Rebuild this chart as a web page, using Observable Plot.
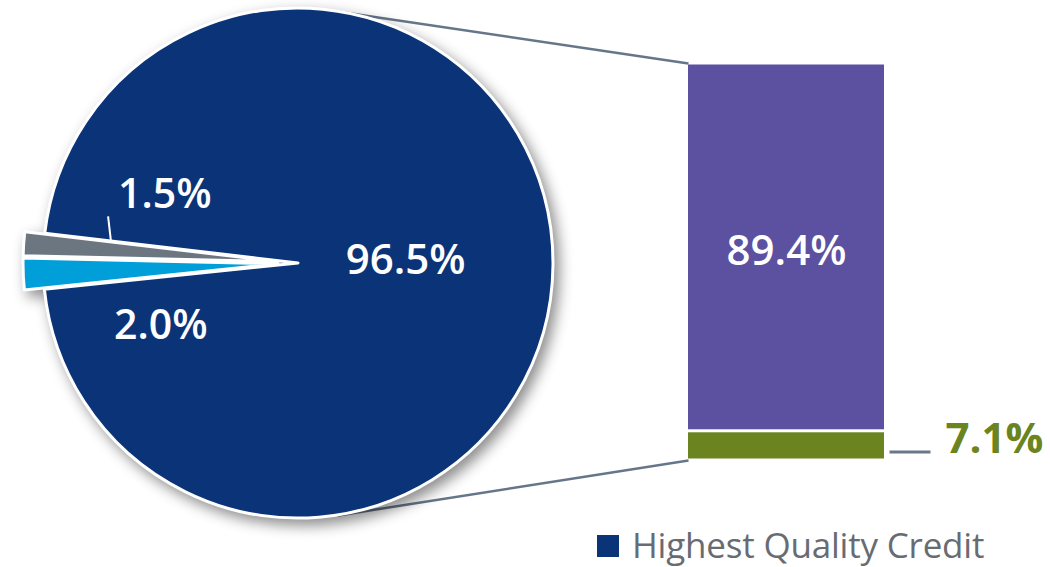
<!DOCTYPE html>
<html>
<head>
<meta charset="utf-8">
<script src="https://cdn.jsdelivr.net/npm/d3@7"></script>
<script src="https://cdn.jsdelivr.net/npm/@observablehq/plot@0.6"></script>
<style>
  html, body { margin: 0; padding: 0; background: #fff; }
  #chart { width: 1050px; height: 567px; position: relative; overflow: hidden; }
  #legend { position: absolute; left: 597px; top: 526px; display: flex; align-items: center; line-height: 1.1;
            font-family: "Open Sans", "Noto Sans", sans-serif; font-size: 35px; color: #686c72; letter-spacing: -0.2px; }
  #legend .sw { width: 22px; height: 22px; background: #0b3478; margin-right: 13px; margin-top: 2px; }
</style>
</head>
<body>
<div id="chart"></div>
<script>
// ---- data ----
const pieNames  = ["Other (1.5%)", "Other (2.0%)", "Highest Quality Credit"];
const pieValues = [1.5, 2.0, 96.5];
const pieColors = ["#6b7681", "#019fd9", "#0b3478"];
const pieExplode = [1, 1, 0];          // which slices are pulled out
const pieLabels = ["1.5%", "2.0%", "96.5%"];

const barNames  = ["Bar top", "Bar bottom"];
const barValues = [89.4, 7.1];
const barColors = ["#5c51a0", "#6b8420"];
const barLabels = ["89.4%", "7.1%"];
const legendLabel = "Highest Quality Credit";

// ---- layout (pixels) ----
const W = 1050, H = 525;
const cx = 298, cy = 263, R = 255;       // pie centre / radius in px
const startDeg = 173.3;                   // angle where the first slice begins
const explodePx = 20;

// x/y scales in "pie radius" units, y up
const xDomain = [-cx / R, (W - cx) / R];
const yDomain = [-(H - cy) / R, cy / R];
const px = p => p / R;                    // pixel distance -> units

// ---- pie slices from values ----
const total = d3.sum(pieValues);
let acc = startDeg;
const slices = pieValues.map((v, i) => {
  const a0 = acc, a1 = acc + v / total * 360;
  acc = a1;
  const mid = (a0 + a1) / 2 * Math.PI / 180;
  const off = pieExplode[i] ? px(explodePx) : 0;
  return {name: pieNames[i], color: pieColors[i], a0, a1, ox: off * Math.cos(mid), oy: off * Math.sin(mid)};
});
const grayStart = startDeg * Math.PI / 180;

// custom pie mark drawn with Plot's x/y scales
function pieMark(index, scales) {
  const sx = scales.x, sy = scales.y;
  const rPx = sx(1) - sx(0);
  const g = d3.create("svg:g").attr("aria-label", "pie")
    .style("filter", "drop-shadow(5px 6px 7px rgba(0,0,0,0.45))");
  // d3.arc angles: 0 at 12 o'clock, clockwise. math angle a (ccw from +x) -> PI/2 - a
  const arc = d3.arc().innerRadius(0).outerRadius(rPx);
  for (const s of slices) {
    const r0 = Math.PI / 2 - s.a1 * Math.PI / 180;
    const r1 = Math.PI / 2 - s.a0 * Math.PI / 180;
    g.append("path")
      .attr("transform", `translate(${sx(s.ox)},${sy(s.oy)})`)
      .attr("d", arc({startAngle: r0, endAngle: r1}))
      .attr("fill", s.color)
      .attr("stroke", "white")
      .attr("stroke-width", 3)
      .attr("stroke-linejoin", "round");
  }
  return g.node();
}

// ---- bar geometry from values ----
const barX1 = px(688 - cx), barX2 = px(884 - cx);
const barBase = px(cy - 460);
const k = px(397) / d3.sum(barValues);   // units per percent
const greenTop = barBase + barValues[1] * k;
const barTop = greenTop + barValues[0] * k;
const bars = [
  {name: barNames[0], y1: greenTop, y2: barTop, fill: barColors[0], label: barLabels[0]},
  {name: barNames[1], y1: barBase, y2: greenTop, fill: barColors[1], label: barLabels[1]}
];

// tangent lines from bar corners to the pie circle
function tangent(X, Y, sign) {
  const d = Math.hypot(X, Y), phi = Math.atan2(Y, X), t = Math.acos(1 / d);
  const a = phi + sign * t;
  return {x1: Math.cos(a), y1: Math.sin(a), x2: X, y2: Y};
}
const connectors = [tangent(barX1, barTop, +1), tangent(barX1, barBase, -1)];

const font = "'Open Sans', 'Noto Sans', sans-serif";

const plot = Plot.plot({
  width: W, height: H,
  margin: 0,
  x: {domain: xDomain, axis: null},
  y: {domain: yDomain, axis: null},
  style: {background: "#fff", overflow: "visible"},
  marks: [
    Plot.link(connectors, {x1: "x1", y1: "y1", x2: "x2", y2: "y2", stroke: "#66768a", strokeWidth: 2.5}),
    pieMark,
    // leader for 1.5%
    Plot.link([0], {x1: () => 0.74 * Math.cos(grayStart), y1: () => 0.74 * Math.sin(grayStart) - px(1),
                    x2: () => 0.74 * Math.cos(grayStart) - px(3), y2: () => 0.74 * Math.sin(grayStart) + px(25),
                    stroke: "white", strokeWidth: 2}),
    Plot.text([pieLabels[0]], {x: -0.524, y: 0.268, text: d => d, fill: "white", fontSize: 41, fontWeight: 600, fontFamily: font}),
    Plot.text([pieLabels[1]], {x: -0.54, y: -0.244, text: d => d, fill: "white", fontSize: 41, fontWeight: 600, fontFamily: font}),
    Plot.text([pieLabels[2]], {x: 0.42, y: 0.01, text: d => d, fill: "white", fontSize: 42, fontWeight: 600, fontFamily: font}),
    // stacked bar
    Plot.rect(bars, {x1: barX1, x2: barX2, y1: "y1", y2: "y2", fill: "fill", insetTop: 1.5, insetBottom: 1.5}),
    Plot.text([bars[0]], {x: (barX1 + barX2) / 2, y: d => (d.y1 + d.y2) / 2 - px(4), text: "label",
                          fill: "white", fontSize: 42, fontWeight: 600, fontFamily: font}),
    Plot.link([bars[1]], {x1: barX2 + px(5), x2: barX2 + px(46), y1: d => (d.y1 + d.y2) / 2 - px(6),
                          y2: d => (d.y1 + d.y2) / 2 - px(6), stroke: "#6a7787", strokeWidth: 3}),
    Plot.text([bars[1]], {x: barX2 + px(61), y: d => (d.y1 + d.y2) / 2 + px(6), text: "label", textAnchor: "start",
                          fill: barColors[1], fontSize: 42, fontWeight: 700, fontFamily: font})
  ]
});

const chart = document.getElementById("chart");
chart.appendChild(plot);
const legend = document.createElement("div");
legend.id = "legend";
legend.innerHTML = '<div class="sw"></div><span></span>';
legend.querySelector("span").textContent = legendLabel;
chart.appendChild(legend);
</script>
</body>
</html>
